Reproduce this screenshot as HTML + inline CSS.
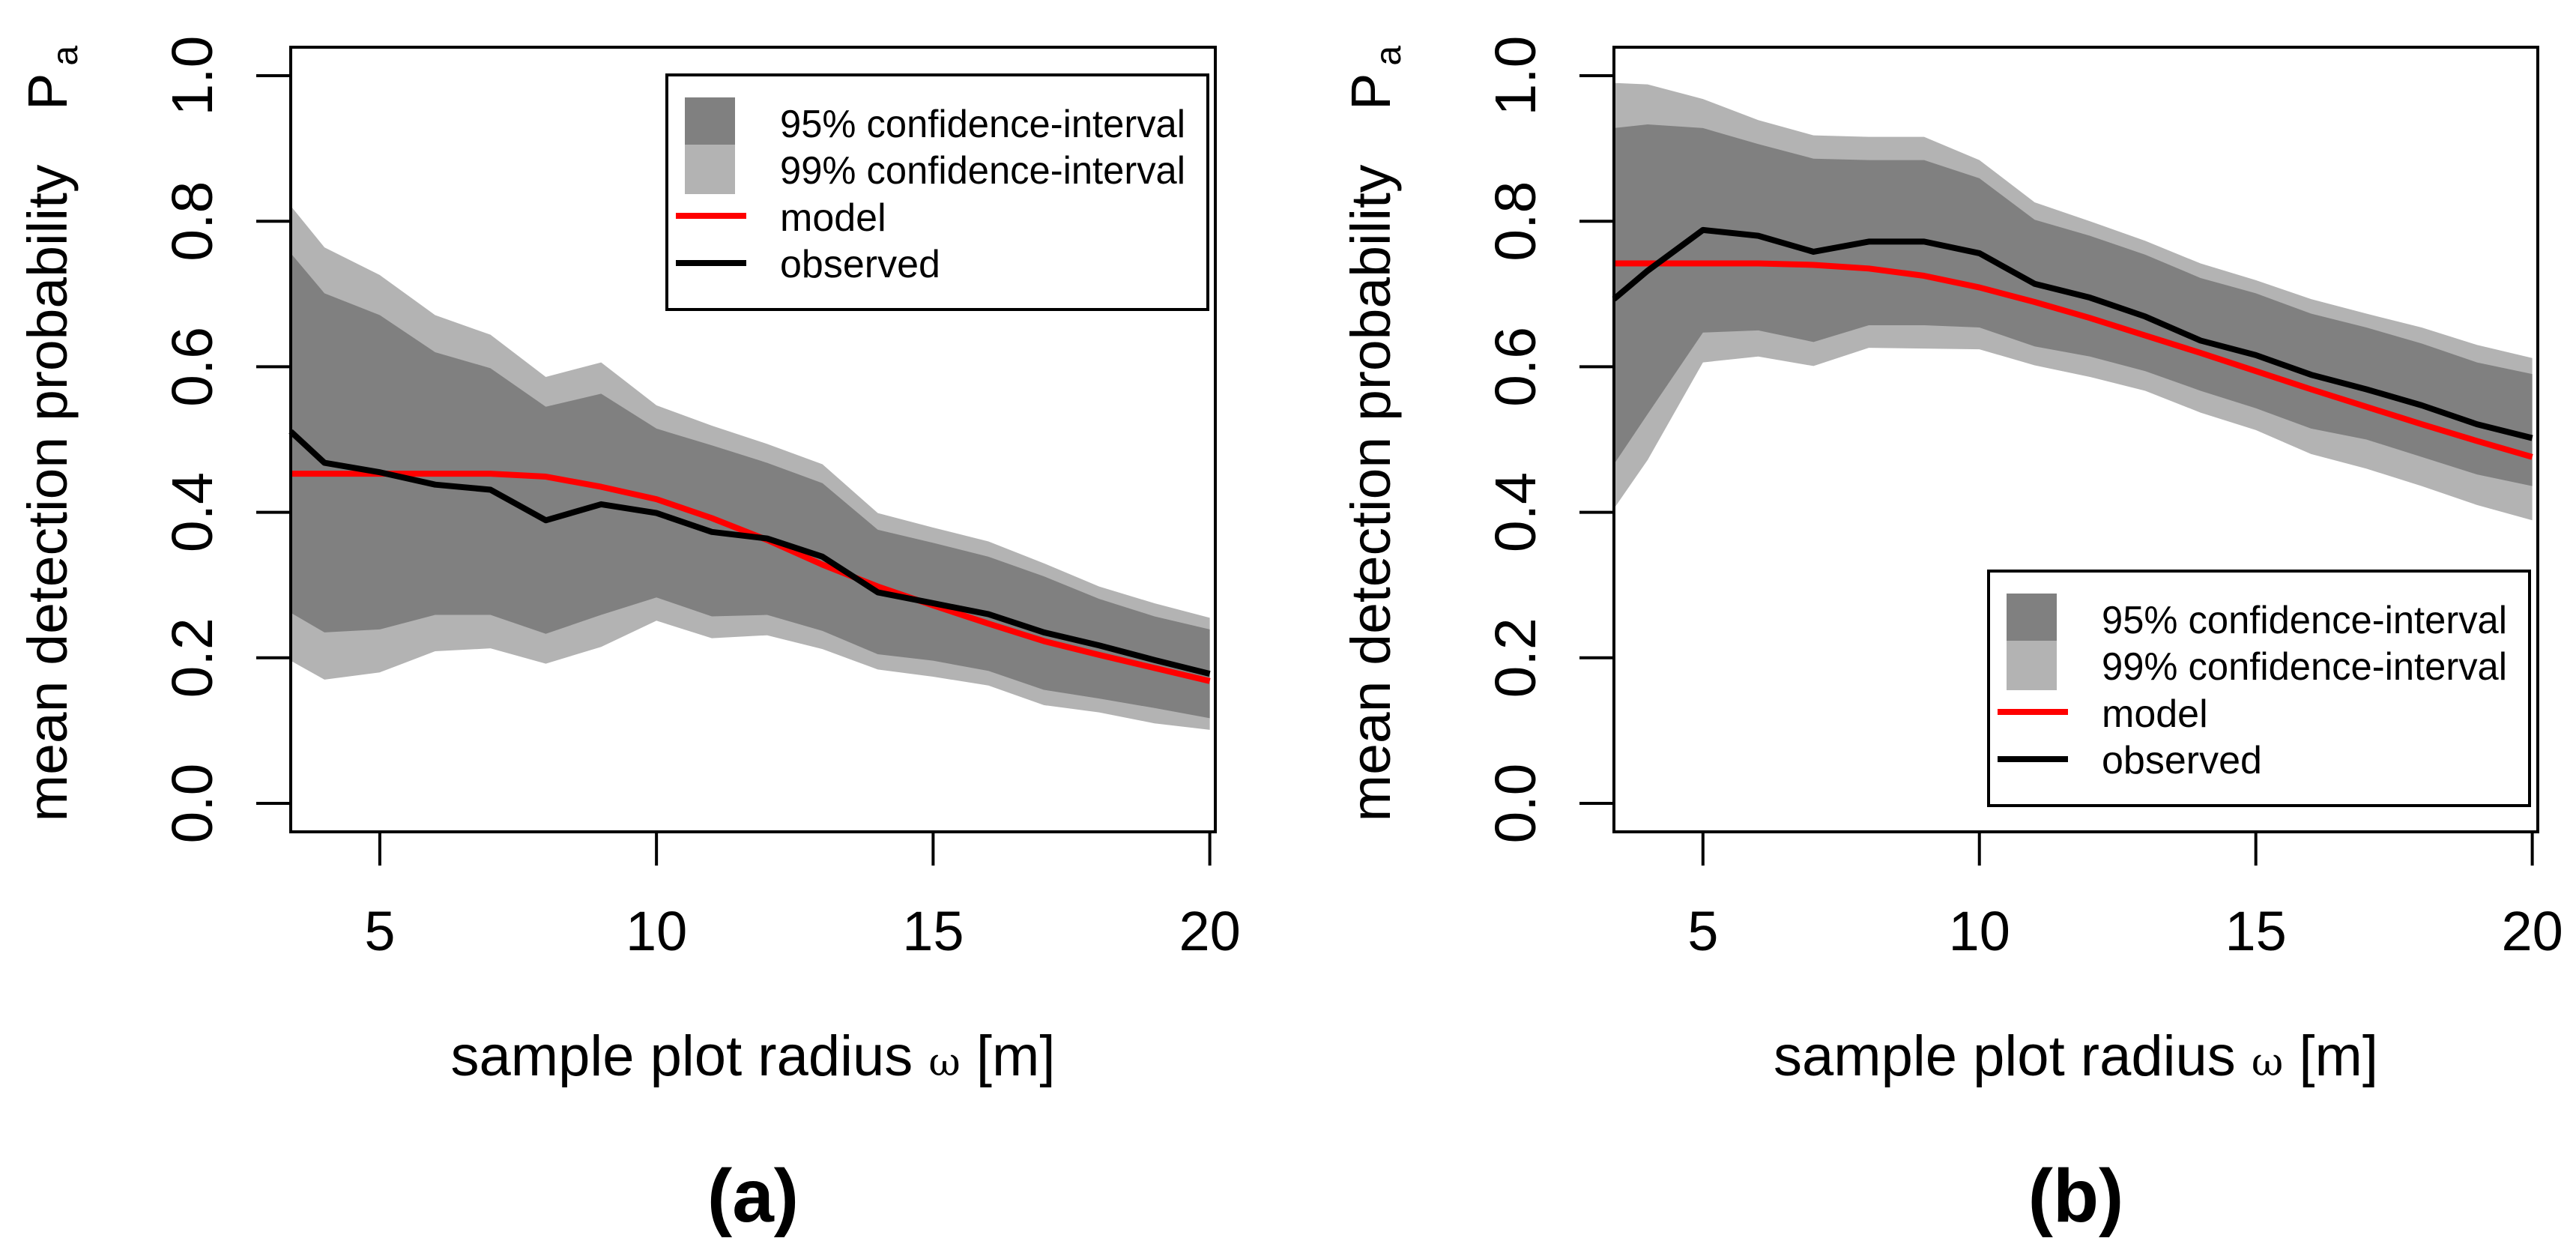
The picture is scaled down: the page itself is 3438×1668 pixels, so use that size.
<!DOCTYPE html>
<html><head><meta charset="utf-8"><style>
html,body{margin:0;padding:0;background:#fff;}
svg{display:block;font-family:"Liberation Sans",Arial,sans-serif;}
</style></head><body>
<svg id="fig" width="3438" height="1668" viewBox="0 0 3438 1668" xmlns="http://www.w3.org/2000/svg"></svg>
<script>
const xs = [3.39,4,5,6,7,8,9,10,11,12,13,14,15,16,17,18,19,20];
const aU99 = [0.821,0.764,0.726,0.671,0.644,0.586,0.606,0.547,0.519,0.494,0.466,0.399,0.379,0.360,0.330,0.298,0.275,0.255];
const aU95 = [0.756,0.701,0.671,0.620,0.598,0.545,0.563,0.515,0.492,0.468,0.440,0.376,0.358,0.339,0.312,0.281,0.257,0.239];
const aL95 = [0.262,0.235,0.239,0.259,0.259,0.233,0.259,0.283,0.257,0.259,0.237,0.205,0.196,0.182,0.156,0.144,0.131,0.117];
const aL99 = [0.196,0.170,0.180,0.209,0.213,0.192,0.215,0.251,0.227,0.231,0.212,0.184,0.174,0.162,0.135,0.125,0.110,0.101];
const aObs = [0.511,0.468,0.455,0.438,0.431,0.389,0.411,0.399,0.373,0.364,0.339,0.290,0.275,0.260,0.235,0.217,0.197,0.178];
const aMod = [0.453,0.453,0.453,0.453,0.453,0.449,0.435,0.418,0.392,0.362,0.328,0.298,0.272,0.247,0.223,0.204,0.186,0.168];
const bU99 = [0.990,0.988,0.968,0.939,0.918,0.916,0.916,0.884,0.826,0.800,0.773,0.742,0.719,0.693,0.673,0.654,0.630,0.612];
const bU95 = [0.928,0.933,0.928,0.906,0.886,0.884,0.884,0.859,0.802,0.780,0.754,0.722,0.701,0.673,0.654,0.632,0.606,0.590];
const bL95 = [0.466,0.535,0.647,0.650,0.634,0.657,0.657,0.654,0.628,0.614,0.594,0.567,0.543,0.515,0.500,0.476,0.452,0.436];
const bL99 = [0.405,0.472,0.606,0.614,0.601,0.626,0.625,0.624,0.602,0.586,0.567,0.537,0.513,0.480,0.460,0.436,0.410,0.389];
const bObs = [0.693,0.732,0.788,0.780,0.758,0.772,0.772,0.756,0.714,0.695,0.669,0.636,0.616,0.589,0.569,0.547,0.521,0.502];
const bMod = [0.742,0.742,0.742,0.742,0.740,0.735,0.725,0.709,0.689,0.667,0.643,0.619,0.594,0.569,0.545,0.521,0.498,0.476];
const xTicks = [5,10,15,20];
const yTicks = [0,0.2,0.4,0.6,0.8,1.0];
const yTickLabels = ["0.0","0.2","0.4","0.6","0.8","1.0"];
const legendLabels = ["95% confidence-interval","99% confidence-interval","model","observed"];

const NS="http://www.w3.org/2000/svg";
const svg=document.getElementById('fig');
function mk(tag,attrs,parent,txt){const e=document.createElementNS(NS,tag);for(const k in attrs)e.setAttribute(k,attrs[k]);if(txt!==undefined)e.textContent=txt;(parent||svg).appendChild(e);return e;}

function panel(cfg){
  const g=mk('g',{});
  
  
  const L=cfg.left,R=cfg.right,T=63,B=1110;
  const xmin=3.39,xmax=20.1;
  const sx=v=>L+(v-xmin)/(xmax-xmin)*(R-L);
  const sy=v=>1072-v*971;
  const xc=(L+R)/2;
  function band(up,lo,fill,name){
    let d='M'+xs.map((x,i)=>sx(x)+','+sy(up[i])).join('L');
    for(let i=xs.length-1;i>=0;i--)d+='L'+sx(xs[i])+','+sy(lo[i]);
    const p=mk('path',{d:d+'Z',fill:fill},g);
    
    
  }
  function line(arr,color,name){
    const p=mk('polyline',{points:xs.map((x,i)=>sx(x)+','+sy(arr[i])).join(' '),fill:'none',stroke:color,'stroke-width':8,'stroke-linejoin':'round'},g);
    
    
  }
  band(cfg.u99,cfg.l99,'#b3b3b3','ci99-band');
  band(cfg.u95,cfg.l95,'#808080','ci95-band');
  line(cfg.mod,'#ff0000','model-line');
  line(cfg.obs,'#000000','observed-line');
  const box=mk('rect',{x:L,y:T,width:R-L,height:B-T,fill:'none',stroke:'#000','stroke-width':4},g);
  
  
  xTicks.forEach(t=>{
    const tk=mk('line',{x1:sx(t),x2:sx(t),y1:B,y2:B+45,stroke:'#000','stroke-width':4},g);
    
    
    const lb=mk('text',{x:sx(t),y:1268,'font-size':74,'text-anchor':'middle'},g,String(t));
    
    
  });
  yTicks.forEach((t,i)=>{
    const tk=mk('line',{x1:L,x2:L-46,y1:sy(t),y2:sy(t),stroke:'#000','stroke-width':4},g);
    
    
    const bx=L-105;
    const lb=mk('text',{x:bx,y:sy(t),'font-size':77,'text-anchor':'middle',transform:'rotate(-90 '+bx+' '+sy(t)+')'},g,yTickLabels[i]);
    
    
  });
  const yt=mk('text',{x:0,y:0,'font-size':74,'text-anchor':'middle',textLength:877,lengthAdjust:'spacingAndGlyphs',transform:'translate('+(L-299)+',658) rotate(-90)'},g,'mean detection probability');
  
  
  const pa=mk('text',{x:0,y:0,'font-size':74,transform:'translate('+(L-299)+',147) rotate(-90)'},g);
  
  
  mk('tspan',{},pa,'P');
  mk('tspan',{'font-size':48,dx:10,dy:14},pa,'a');
  const xt=mk('text',{x:xc,y:1435,'font-size':76,'text-anchor':'middle'},g);
  
  
  mk('tspan',{},xt,'sample plot radius ');
  mk('tspan',{'font-size':52,'font-family':'"DejaVu Serif",serif'},xt,'ω');
  mk('tspan',{},xt,' [m]');
  const pl=mk('text',{x:xc,y:1630,'font-size':100,'font-weight':'bold','text-anchor':'middle'},g,cfg.label);
  
  
  // legend
  const lg=mk('g',{},g);
  
  
  const ly=cfg.legY;
  mk('rect',{x:cfg.legX,y:ly,width:722,height:313,fill:'#fff',stroke:'#000','stroke-width':4},lg);
  const sw=cfg.legX+24;
  const s1=mk('rect',{x:sw,y:ly+30,width:67,height:63,fill:'#808080'},lg);
  
  
  const s2=mk('rect',{x:sw,y:ly+93,width:67,height:66,fill:'#b3b3b3'},lg);
  
  
  const l1=mk('line',{x1:cfg.legX+12,x2:cfg.legX+106,y1:ly+188,y2:ly+188,stroke:'#ff0000','stroke-width':8},lg);
  
  
  const l2=mk('line',{x1:cfg.legX+12,x2:cfg.legX+106,y1:ly+251,y2:ly+251,stroke:'#000','stroke-width':8},lg);
  
  
  const rows=[83,145,208,270];
  const widths=[541,541,0,0];
  legendLabels.forEach((s,i)=>{
    const at={x:cfg.legX+151,y:ly+rows[i],'font-size':52};
    if(widths[i]){at.textLength=widths[i];at.lengthAdjust='spacingAndGlyphs';}
    const t=mk('text',at,lg,s);
    
    
  });
}
panel({name:'panel-a',label:'(a)',left:388,right:1622,u99:aU99,u95:aU95,l95:aL95,l99:aL99,obs:aObs,mod:aMod,legX:890,legY:100});
panel({name:'panel-b',label:'(b)',left:2154,right:3387,u99:bU99,u95:bU95,l95:bL95,l99:bL99,obs:bObs,mod:bMod,legX:2654,legY:762});
</script>
</body></html>
